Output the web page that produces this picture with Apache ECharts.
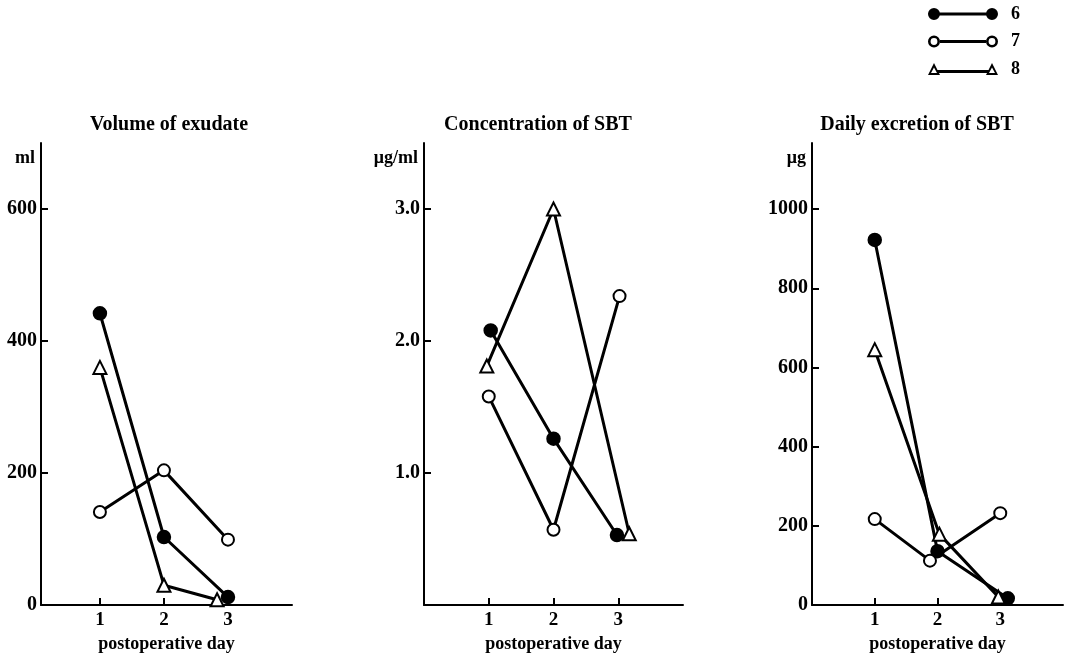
<!DOCTYPE html>
<html>
<head>
<meta charset="utf-8">
<script src="https://cdn.jsdelivr.net/npm/echarts@6/dist/echarts.min.js"></script>
<style>html,body{margin:0;padding:0;background:#fff}#c{width:1070px;height:661px}</style>
</head>
<body>
<div id="c"></div>
<script>
// ---- data ----
const seriesNames = ['6', '7', '8'];
const dayTicks = [1, 2, 3];
const panelTitles = ['Volume of exudate', 'Concentration of SBT', 'Daily excretion of SBT'];
const unitNames = ['ml', '\u03bcg/ml', '\u03bcg'];
const xAxisTitle = 'postoperative day';

// Volume of exudate (ml)
const volumeDays6 = [1, 2, 3];
const volumeDays7 = [1, 2, 3];
const volumeDays8 = [1, 2, 2.83];
const volume6 = [442, 103, 12];
const volume7 = [141, 204, 99];
const volume8 = [360, 30, 8];
const volumeTicks = [0, 200, 400, 600];

// Concentration of SBT (ug/ml)
const concDays6 = [1.03, 2, 2.98];
const concDays7 = [1, 2, 3.02];
const concDays8 = [0.97, 2, 3.17];
const conc6 = [2.08, 1.26, 0.53];
const conc7 = [1.58, 0.57, 2.34];
const conc8 = [1.81, 3.0, 0.54];
const concTicks = [1, 2, 3];

// Daily excretion of SBT (ug)
const excrDays6 = [1, 2, 3.12];
const excrDays7 = [1, 1.88, 3];
const excrDays8 = [1, 2.03, 2.97];
const excr6 = [922, 136, 17];
const excr7 = [217, 112, 232];
const excr8 = [645, 179, 20];
const excrTicks = [0, 200, 400, 600, 800, 1000];

// ---- chart ----
const FONT = 'Liberation Serif';
const pair = (xs, ys) => xs.map((x, i) => [x, ys[i]]);

const grids = [
  {left: 41, top: 143, width: 251, height: 462},
  {left: 424, top: 143, width: 259, height: 462},
  {left: 812, top: 143, width: 251, height: 462}
];
const xMins = [0.08, 0, 0];
const yMax = [700, 3.5, 1167];
const yTicks = [volumeTicks, concTicks, excrTicks];
const yFmt = [v => String(v), v => v.toFixed(1), v => String(v)];
const titleCenters = [164, 533, 912];

const xAxes = grids.map((g, i) => ({
  type: 'value', gridIndex: i, min: xMins[i], max: 4,
  axisLine: {show: true, onZero: false, lineStyle: {color: '#000', width: 2}},
  axisTick: {show: true, inside: true, length: 7, customValues: dayTicks, lineStyle: {color: '#000', width: 2}},
  axisLabel: {customValues: dayTicks, color: '#000', fontFamily: FONT, fontWeight: 'bold', fontSize: 19, margin: 6},
  splitLine: {show: false},
  name: xAxisTitle, nameLocation: 'middle', nameGap: 28,
  nameTextStyle: {color: '#000', fontFamily: FONT, fontWeight: 'bold', fontSize: 18}
}));

const yAxes = grids.map((g, i) => ({
  type: 'value', gridIndex: i, min: 0, max: yMax[i],
  axisLine: {show: true, onZero: false, lineStyle: {color: '#000', width: 2}},
  axisTick: {show: true, inside: true, length: 7, customValues: yTicks[i], lineStyle: {color: '#000', width: 2}},
  axisLabel: {customValues: yTicks[i], formatter: yFmt[i], color: '#000', fontFamily: FONT, fontWeight: 'bold', fontSize: 20, margin: 4},
  splitLine: {show: false},
  name: unitNames[i], nameLocation: 'end', nameGap: -6,
  nameTextStyle: {color: '#000', fontFamily: FONT, fontWeight: 'bold', fontSize: 18, align: 'right', verticalAlign: 'top', padding: [0, 6, 0, 0]}
}));

const panelData = [
  [pair(volumeDays6, volume6), pair(volumeDays7, volume7), pair(volumeDays8, volume8)],
  [pair(concDays6, conc6), pair(concDays7, conc7), pair(concDays8, conc8)],
  [pair(excrDays6, excr6), pair(excrDays7, excr7), pair(excrDays8, excr8)]
];
const symbols = ['circle', 'emptyCircle', 'emptyTriangle'];
const symSizes = [12, 12, 13];

const series = [];
panelData.forEach((sets, p) => {
  sets.forEach((d, k) => {
    series.push({
      type: 'line', name: seriesNames[k], xAxisIndex: p, yAxisIndex: p,
      data: d, symbol: symbols[k], symbolSize: symSizes[k], showAllSymbol: true,
      lineStyle: {color: '#000', width: 3},
      itemStyle: {color: '#000', borderColor: '#000', borderWidth: 2.5},
      emphasis: {disabled: true}
    });
  });
});

const iconFilled = 'path://M0,6A6,6,0,1,1,12,6A6,6,0,1,1,0,6ZM58,6A6,6,0,1,1,70,6A6,6,0,1,1,58,6ZM6,4.5L64,4.5L64,7.5L6,7.5Z';
const iconOpen = 'path://M0,6A6,6,0,1,1,12,6A6,6,0,1,1,0,6ZM2.6,6A3.4,3.4,0,1,0,9.4,6A3.4,3.4,0,1,0,2.6,6ZM58,6A6,6,0,1,1,70,6A6,6,0,1,1,58,6ZM60.6,6A3.4,3.4,0,1,0,67.4,6A3.4,3.4,0,1,0,60.6,6ZM12,4.5L58,4.5L58,7.5L12,7.5Z';
const iconTri = 'path://M0,12L6,0L12,12ZM3,10L9,10L6,4.5ZM58,12L64,0L70,12ZM61,10L67,10L64,4.5ZM9.5,7L60.5,7L60.5,10L9.5,10Z';

const chart = echarts.init(document.getElementById('c'));
chart.setOption({
  animation: false,
  backgroundColor: '#fff',
  title: panelTitles.map((t, i) => ({
    text: t, left: titleCenters[i], top: 110, textAlign: 'center',
    textStyle: {color: '#000', fontFamily: FONT, fontWeight: 'bold', fontSize: 20}
  })),
  legend: {
    orient: 'vertical', left: 923, top: 0,
    itemWidth: 70, itemHeight: 12, itemGap: 9.5,
    data: [
      {name: '6', icon: iconFilled},
      {name: '7', icon: iconOpen},
      {name: '8', icon: iconTri}
    ],
    itemStyle: {color: '#000', borderWidth: 0},
    lineStyle: {width: 0},
    textStyle: {color: '#000', fontFamily: FONT, fontWeight: 'bold', fontSize: 18, padding: [0, 0, 0, 8]},
    selectedMode: false
  },
  grid: grids,
  xAxis: xAxes,
  yAxis: yAxes,
  series: series
});
</script>
</body>
</html>
